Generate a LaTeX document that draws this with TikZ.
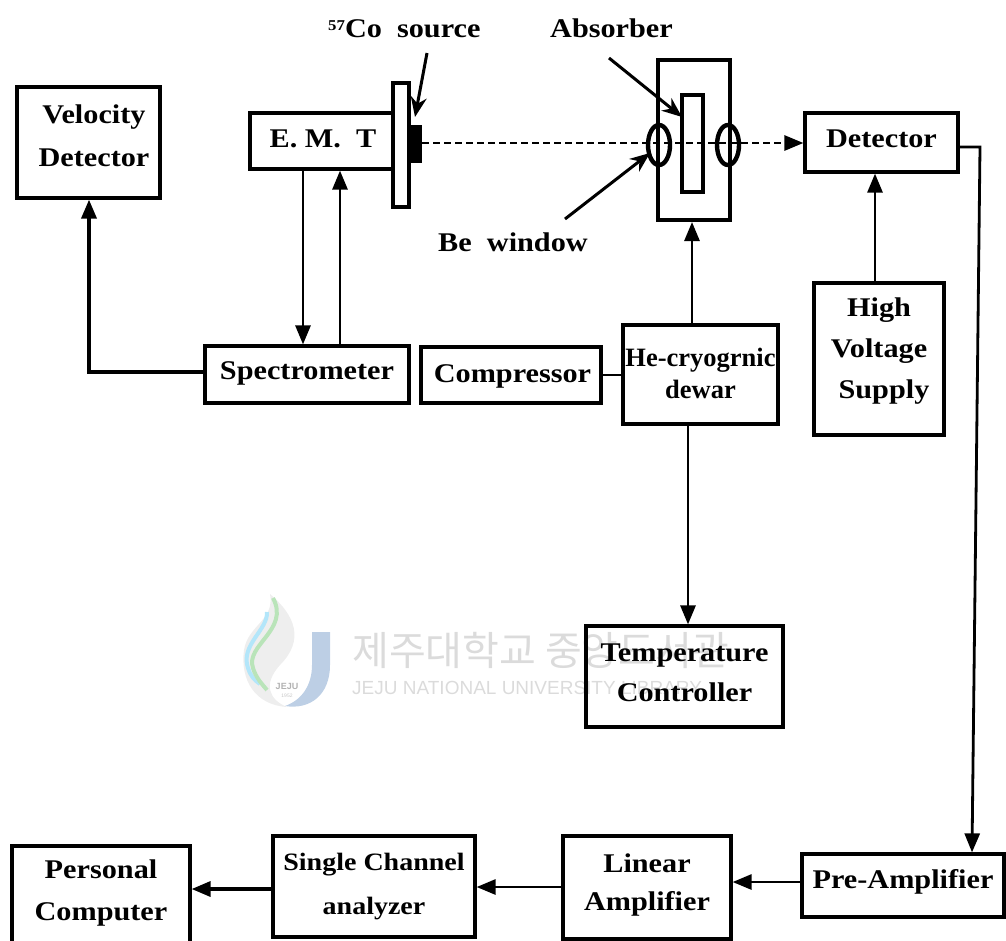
\documentclass[tikz,border=0pt]{standalone}
\usepackage{fontspec}
\setmainfont{Liberation Serif}[BoldFont={Liberation Serif Bold},BoldFeatures={FakeStretch=1.12}]
\newfontfamily\hefont{Liberation Serif Bold}
\newfontfamily\krfont{Noto Sans CJK KR}
\newfontfamily\wmfont{Liberation Sans}
\usetikzlibrary{arrows.meta,calc,shapes.geometric}
\definecolor{wm}{gray}{0.86}
\definecolor{jblue}{rgb}{0.74,0.81,0.90}
% #2 = raise from box centre, text box has zero height so the box stays as sized
\newcommand{\tb}[3][38]{\raisebox{#2pt}[0pt][0pt]{\fontsize{27}{#1}\selectfont\bfseries\begin{tabular}{@{}c@{}}#3\end{tabular}}}
\tikzset{
  x=1pt,y=-1pt,
  blk/.style={draw=black,line width=3.2pt,inner sep=0pt,align=center},
  thick line/.style={draw=black,line width=2.8pt},
  con/.style={thick line,-{Triangle[length=19pt,width=15pt]}},
  lbl/.style={inner sep=0pt,font=\fontsize{27}{32}\selectfont\bfseries},
  pointer/.style={thick line,line width=3pt,-{Stealth[length=20pt,width=16pt]}},
}
\begin{document}
\begin{tikzpicture}
\useasboundingbox (0,0) rectangle (1006,940);
\clip (0,0) rectangle (1006,940);
% library watermark
\node[inner sep=0pt,anchor=west,text=wm,font=\fontsize{40}{44}\selectfont\krfont] (wmk) at (352,650) {제주대학교 중앙도서관};
\node[inner sep=0pt,anchor=west,text=wm,font=\fontsize{19}{24}\selectfont\wmfont] (wme) at (352,688) {JEJU NATIONAL UNIVERSITY LIBRARY};
\fill[gray!13] (270,594) .. controls (295,615) and (305,640) .. (280,665) .. controls (262,685) and (270,700) .. (287,707) .. controls (255,705) and (240,680) .. (244,650) .. controls (248,625) and (275,620) .. (270,594) -- cycle;
\fill[jblue] (312,632) -- (330,632) -- (330,665) .. controls (330,695) and (310,710) .. (285,706) .. controls (302,700) and (312,685) .. (312,665) -- cycle;
\draw[cyan!30,line width=4pt] (267,612) .. controls (268,630) and (240,645) .. (248,668) .. controls (250,675) and (254,680) .. (260,684);
\draw[green!45!gray!38,line width=4pt] (273,598) .. controls (290,630) and (245,645) .. (253,668) .. controls (256,678) and (262,684) .. (267,690);
\node[inner sep=0pt,text=gray!60,font=\fontsize{9}{10}\selectfont\bfseries\wmfont] (wml) at (287,686) {JEJU};
\node[inner sep=0pt,text=gray!45,font=\fontsize{5}{6}\selectfont\wmfont] (wmy) at (287,696) {1952};
% main boxes
\node[blk,minimum width=143pt,minimum height=111pt] (vel) at (88.5,142.5) {\hspace*{11pt}\tb[43]{0}{Velocity\\Detector}};
\node[blk,minimum width=143pt,minimum height=56pt] (emt) at (321.5,141) {\hspace*{3pt}\tb{-5}{E.\ M.\ \ T}};
\node[blk,minimum width=16pt,minimum height=124pt] (plate) at (401,145) {};
\node[draw=black,fill=black,line width=1pt,inner sep=0pt,minimum width=12pt,minimum height=37pt] (src) at (415,143.5) {};
\node[blk,line width=4pt,minimum width=72pt,minimum height=160pt] (dewar) at (694,140) {};
\node[blk,minimum width=21pt,minimum height=97pt] (abs) at (692.5,143.5) {};
\node[blk,line width=4.4pt,ellipse,minimum width=22pt,minimum height=40pt] (win1) at (659,145) {};
\node[blk,line width=4.4pt,ellipse,minimum width=22pt,minimum height=40pt] (win2) at (728,145) {};
\node[blk,minimum width=153pt,minimum height=59pt] (det) at (881.5,142.5) {\tb{-3.5}{Detector}};
\node[blk,minimum width=130pt,minimum height=152pt] (hv) at (879,359) {\tb[41]{3}{High\\Voltage\\\hspace*{10pt}Supply}};
\node[blk,minimum width=204pt,minimum height=57pt] (spec) at (307,374.5) {\tb{-3.5}{Spectrometer}};
\node[blk,minimum width=180pt,minimum height=56pt] (comp) at (511,375) {\hspace*{3pt}\tb{-6}{Compressor}};
\node[blk,minimum width=155pt,minimum height=99pt] (he) at (700.5,374.5) {\raisebox{-8pt}[0pt][0pt]{\fontsize{26.5}{32}\selectfont\hefont\begin{tabular}{@{}c@{}}He-cryogrnic\\dewar\end{tabular}}};
\node[blk,minimum width=197pt,minimum height=101pt] (temp) at (684.5,676.5) {\tb[40]{-3.5}{Temperature\\Controller}};
\node[blk,minimum width=202pt,minimum height=63pt] (pre) at (903,885.5) {\tb{-2}{Pre-Amplifier}};
\node[blk,minimum width=168pt,minimum height=103pt] (lin) at (647,887.5) {\tb[38]{-2.5}{Linear\\Amplifier}};
\node[blk,minimum width=202pt,minimum height=101pt] (sca) at (374,886.5) {\raisebox{-3pt}[0pt][0pt]{\fontsize{25}{44}\selectfont\bfseries\begin{tabular}{@{}c@{}}Single Channel\\analyzer\end{tabular}}};
\node[blk,minimum width=178pt,minimum height=119pt] (pc) at (101,905.5) {\tb[42]{8}{Personal\\Computer}};
% free labels
\node[lbl,anchor=west] (cosrc) at (328,29) {\raisebox{7pt}{\fontsize{15}{18}\selectfont 57}Co\ \ source};
\node[lbl,anchor=west] (absl) at (550,28) {Absorber};
\node[lbl,anchor=west] (bew) at (438,242) {Be\ \ window};
% free ends of pointers and bends
\coordinate (pA) at (427,53);
\coordinate (pAt) at (415,117);
\coordinate (pB) at (609,58);
\coordinate (pBt) at (682,117);
\coordinate (pC) at (565,219);
\coordinate (pCt) at (650,153);
\coordinate (beamS) at (422,143);
\coordinate (beamE) at (785,143);
\coordinate (bendR) at (980,147);
\coordinate (bendL) at (89,372);
% pointers and beam
\draw[pointer] (pA) -- (pAt);
\draw[pointer] (pB) -- (pBt);
\draw[pointer] (pC) -- (pCt);
\draw[black,line width=2.8pt,dash pattern=on 7pt off 4pt] (beamS) -- (beamE);
\draw[con] (beamE) -- (det.west |- beamE);
% connectors
\draw[con,line width=3.4pt] (spec.west |- bendL) -- (bendL) -- (vel.south -| bendL);
\draw[con] (emt.south -| 303,0) -- (spec.north -| 303,0);
\draw[con] (spec.north -| 340,0) -- (emt.south -| 340,0);
\draw[thick line] (comp.east) -- (he.west |- comp.east);
\draw[con] (he.north -| 692,0) -- (dewar.south -| 692,0);
\draw[con] (he.south -| 688,0) -- (temp.north -| 688,0);
\draw[con] (hv.north -| 875,0) -- (det.south -| 875,0);
\draw[con] (det.east |- bendR) -- (bendR) -- (pre.north -| 972,0);
\draw[con] (pre.west |- 0,882) -- (lin.east |- 0,882);
\draw[con] (lin.west |- 0,887) -- (sca.east |- 0,887);
\draw[con,line width=3.4pt] (sca.west |- 0,889) -- (pc.east |- 0,889);
\end{tikzpicture}
\end{document}
